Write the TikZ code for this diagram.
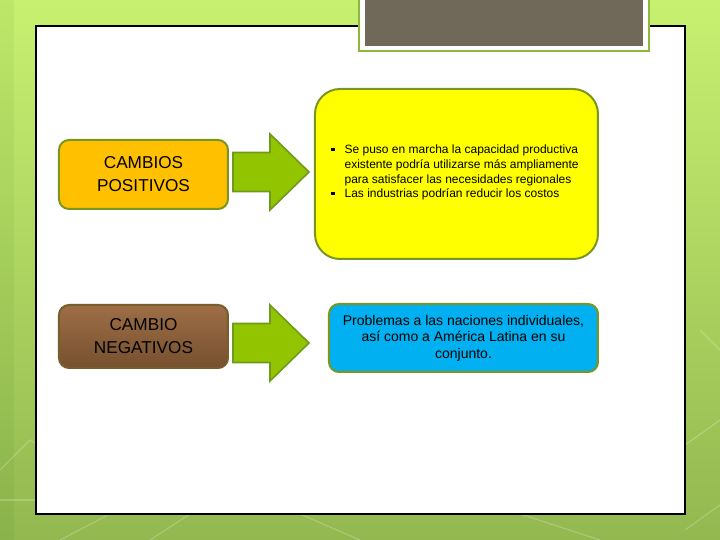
\documentclass[tikz,border=0pt]{standalone}
\usepackage{fontspec}
\setmainfont{Liberation Sans}
\usepackage{tikz}
\usetikzlibrary{positioning, calc}

\definecolor{bgtop}{RGB}{200,240,112}
\definecolor{bgbot}{RGB}{146,184,80}
\definecolor{titlegreen}{RGB}{141,184,58}
\definecolor{titlegray}{RGB}{112,104,88}
\definecolor{boxedge}{RGB}{122,150,32}
\definecolor{posfill}{RGB}{255,192,0}
\definecolor{negtop}{RGB}{158,110,70}
\definecolor{negbot}{RGB}{118,80,47}
\definecolor{arrowfill}{RGB}{146,196,0}
\definecolor{arrowedge}{RGB}{112,154,30}
\definecolor{yelfill}{RGB}{255,255,0}
\definecolor{bluefill}{RGB}{0,176,240}

\begin{document}
\begin{tikzpicture}[x=0.5pt, y=-0.5pt,
    cambio/.style={draw=boxedge, line width=1pt, rounded corners=5pt,
        minimum width=84.5pt, align=center, inner sep=0pt,
        font=\fontsize{8.6}{11.5}\selectfont},
    flecha/.style={draw=arrowedge, line width=0.8pt, fill=arrowfill, line join=miter},
    hexline/.style={white, opacity=0.22, line width=0.6pt}]
    \useasboundingbox (0,0) rectangle (720,540);

    % background and slide panel
    \shade[top color=bgtop, bottom color=bgbot] (0,0) rectangle (720,540);
    \fill[green!40!black, opacity=0.06] (0,0) rectangle (14,540);
    \draw[hexline] (0,470) -- (30,440) -- (62,460);
    \draw[hexline] (0,500) -- (36,500);
    \draw[hexline] (60,540) -- (110,514);
    \draw[hexline] (150,540) -- (190,514);
    \draw[hexline] (300,514) -- (360,540);
    \draw[hexline] (520,514) -- (600,540);
    \draw[hexline] (685,445) -- (720,420);
    \draw[hexline] (685,530) -- (720,505);
    \draw[hexline] (700,330) -- (720,350);
    \draw[fill=white, line width=0.6pt] (36,26) rectangle (685,514);

    % title box
    \filldraw[fill=white, draw=titlegreen, line width=1pt] (359.5,-5) rectangle (649.5,51.5);
    \fill[titlegray] (365,-5) rectangle (643,46);

    % left boxes
    \node[cambio, fill=posfill, minimum height=34.5pt] (pos) at (143.5,174.5)
        {CAMBIOS\\POSITIVOS};
    \node[cambio, draw=negbot!80!boxedge, top color=negtop, bottom color=negbot,
        minimum height=31.5pt] (neg) at (143.5,336.5) {CAMBIO\\NEGATIVOS};

    % right boxes
    \node[draw=boxedge, line width=1pt, fill=yelfill, rounded corners=12.5pt,
        minimum width=141.5pt, minimum height=85pt] (efecpos) at (456.5,174) {};
    \node[anchor=west, inner sep=0pt, font=\fontsize{6}{7.35}\selectfont] (lista) at (331,173)
        {\begin{tabular}{@{}l@{\hspace{5pt}}l@{}}
            \rule[1.5pt]{1.6pt}{1.6pt} & Se puso en marcha la capacidad productiva\\
            & existente podría utilizarse más ampliamente\\
            & para satisfacer las necesidades regionales\\
            \rule[1.5pt]{1.6pt}{1.6pt} & Las industrias podrían reducir los costos
        \end{tabular}};
    \node[draw=boxedge, line width=1pt, fill=bluefill, rounded corners=5pt,
        minimum width=134.5pt, minimum height=34pt, align=center,
        font=\fontsize{7}{8.25}\selectfont] (efecneg) at (463.5,338)
        {Problemas a las naciones individuales,\\así como a América Latina en su\\conjunto.};

    % arrows between the columns
    \foreach \yc in {172,343}
        \draw[flecha] (233,\yc-19.5) -- (270,\yc-19.5) -- (270,\yc-38) -- (309,\yc)
            -- (270,\yc+38) -- (270,\yc+19.5) -- (233,\yc+19.5) -- cycle;
\end{tikzpicture}
\end{document}
